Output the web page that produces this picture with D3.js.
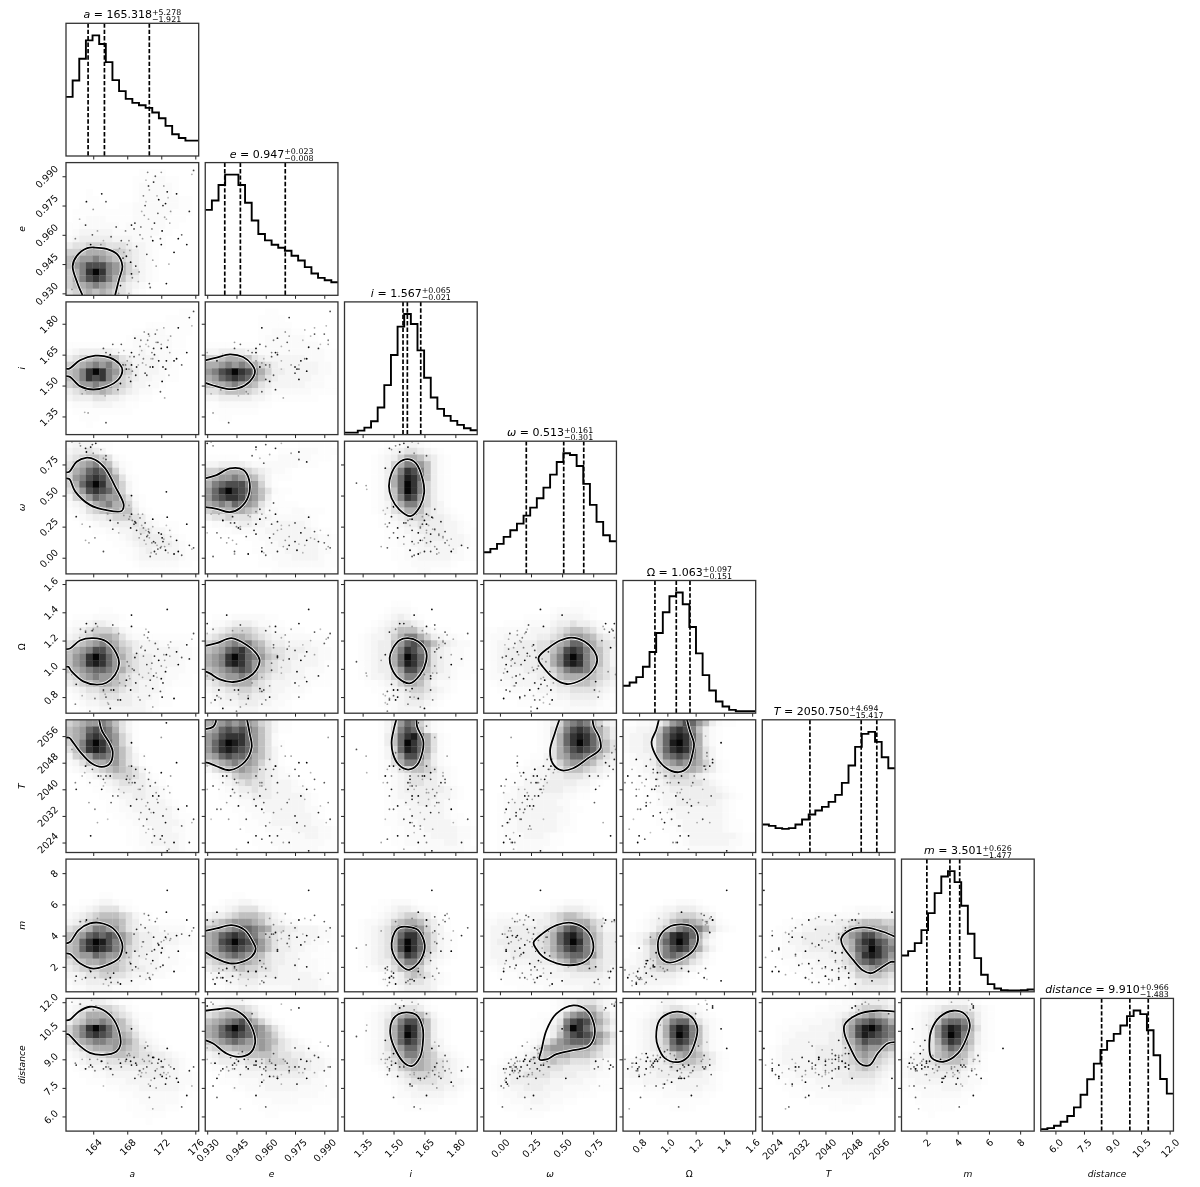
<!DOCTYPE html>
<html>
<head>
<meta charset="utf-8">
<script src="https://cdn.jsdelivr.net/npm/d3@7"></script>
<style>
body { margin: 0; background: #fff; }
svg { display: block; filter: blur(0.4px); }
text { font-family: "DejaVu Sans", sans-serif; fill: #000; }
</style>
</head>
<body>
<script>
// parameter names, axis limits and tick values
var labels = ["a", "e", "i", "ω", "Ω", "T", "m", "distance"];
var domains = [[160.8, 176.4], [0.929, 0.997], [1.262, 1.906], [-0.13, 0.937], [0.686, 1.625], [2021, 2060.9], [0.4, 8.9], [5.23, 12.2]];
var ticks = [[164, 168, 172, 176], [0.93, 0.945, 0.96, 0.975, 0.99], [1.35, 1.5, 1.65, 1.8], [0, 0.25, 0.5, 0.75], [0.8, 1, 1.2, 1.4, 1.6], [2024, 2032, 2040, 2048, 2056], [2, 4, 6, 8], [6, 7.5, 9, 10.5, 12]];
var tickFormats = ["d", ".3f", ".2f", ".2f", ".1f", "d", "d", ".1f"];

var medians = [165.318, 0.947, 1.567, 0.513, 1.063, 2050.75, 3.501, 9.91];
var plus = [5.278, 0.023, 0.065, 0.161, 0.097, 4.694, 0.626, 0.966];
var minus = [1.921, 0.008, 0.021, 0.301, 0.151, 15.417, 1.477, 1.483];

// 1d histograms, 20 bins each
var histA = [177, 226, 291, 346, 361, 335, 281, 227, 194, 171, 159, 152, 144, 130, 113, 90, 65, 54, 46, 46];
var histE = [255, 283, 329, 360, 360, 329, 276, 223, 183, 164, 151, 142, 133, 118, 104, 84, 65, 52, 45, 39];
var histI = [6, 6, 12, 21, 40, 81, 148, 238, 323, 361, 331, 252, 170, 111, 77, 56, 41, 29, 19, 13];
var histW = [65, 75, 90, 111, 131, 151, 175, 199, 227, 259, 298, 336, 362, 357, 324, 270, 207, 156, 116, 98];
var histO = [82, 92, 108, 139, 183, 240, 302, 350, 361, 326, 258, 179, 114, 68, 35, 20, 10, 6, 6, 6];
var histT = [84, 80, 73, 71, 73, 84, 99, 114, 126, 137, 152, 173, 209, 261, 317, 356, 362, 332, 286, 253];
var histM = [109, 122, 146, 185, 236, 296, 346, 362, 329, 258, 174, 101, 51, 23, 10, 5, 4, 4, 5, 7];
var histD = [6, 9, 16, 28, 45, 71, 109, 155, 202, 243, 270, 291, 316, 344, 361, 350, 302, 227, 156, 112];
var hists = [histA, histE, histI, histW, histO, histT, histM, histD];

// 2d density, rows top to bottom, one hex digit per bin (0 white .. f black)
var gridEA = ["", "00000000000111100000", "00000000001112211", "00000000001222221", "00010000001222221", "00011000001222222110", "00111100112222222110", "01111111112222221110", "01122211112222211100", "11222222122222211", "12333332222222110", "23444443332221100", "45566655543321100", "66788877654321", "7899a9876543210", "79accca98643210", "68adfda98653210", "68acdca87543210", "6789a9875432100", "567878765421"];
var gridIA = ["", "0000000000000000011", "0000000000000001111", "0000000000001111111", "0000000000112221111", "0000000001222222110", "1111111111222222110", "2344444322232222110", "4567888754333322100", "6789a9a8653333221", "78adfda9764333211", "78adcda8654332211", "6799a9976533221", "45677876543221", "3444554432211", "12223332211", "0111111111", "00111", "0001", ""];
var gridIE = ["", "00000000011", "000000001111", "0000000011111", "000000001122211", "00000000122222211", "1111111112222222211", "33444433222222222211", "66788875433333322211", "889a9a98654333333221", "9acdfdca864433333221", "89bcdcb9754333332211", "7889a987543333322211", "55677765432222221111", "33444443321111111", "1122222211", "01111111", "0011", "", ""];
var gridWA = ["2333211", "3445431", "456776521", "5789a87421", "689bcb9631", "69acdca8521", "68bdfda86310", "579cdcb9631", "3679ba9975210", "234689a8863100", "1235678877421", "012344566654211", "00112334445432111", "00001122334543321", "000000112344444321", "0000000112344444321", "00000000112343333211", "00000000012333333211", "0000000000122222211", "00000000000111111"];
var gridWE = ["0000000000000011111", "00000000000111222111", "1111100011122222111", "33444432222222111", "6678886543221", "7899a98753111", "8abccca9631", "9bdfdcb975211", "9bcddca97411", "89a9ba98531111", "677888764221122111", "45565554332222221", "12233443323333321", "0011222223333333211", "00000011223333333221", "00000001122333333221", "00000001122233333221", "00000000112223333211", "00000000111222222211", "0000000000111111111"];
var gridWI = ["0000001123321", "000001234554321", "0000123468875421", "000012368aa97421", "00001247adca7421", "00001248bedb7421", "00001248bfda6421", "00001247bfda6421", "00001247adc96421", "000012368aa86431", "00001235688754321", "000001234566544321", "0000011234454443321", "00000011233444433211", "00000011223344433321", "00000011223343333321", "00000001122333333211", "00000001122333332211", "00000000112222221", "0000000011122111"];
var gridOA = ["", "", "", "", "0000011", "011122221", "1223443211", "234566653211", "3456788753221111111", "56789a9865433322221", "789acca9764333333221", "79adfdb9865443333221", "79adedb9765443333211", "789abba9865443322211", "5689a99865444332211", "4567898765433322111", "2345566654433321", "1234455544333211", "0123344444332211", "00122333333321"];
var gridOE = ["", "", "", "", "", "01112222211", "122344432211", "234566654322111", "4567887654332222111", "6789a9a8754433332211", "789bcdb9865544433221", "89adfdba976544333221", "89adedb9865443333211", "789abcb9765443322211", "67899a98654433322111", "4567888654333222111", "3445566554332221", "233445544332211", "2233344433221", "1122233322211"];
var gridOI = ["", "", "", "0000000111", "00000012221", "000001234321", "0000123455431", "0001234577753211", "001233468aa8643221", "001234479bcb97543221", "00123448adca85432211", "00123448bfdb85432211", "00123448bedb85432211", "001234479cca75432111", "001233468aa86433211", "00011234688753221", "00001123456654321", "0000012334554321", "000001223444321", "00000012333321"];
var gridOW = ["", "", "", "0000000000000111", "000000000012222110", "00000011112333321", "0001112222344544321", "11222223334567765321", "12233333445689987543", "1233344455789bb98654", "123444445579cdca8753", "12344444558adfda8753", "12334444558adeda8753", "123333444568abba8654", "12233333445788887654", "01223333334567776543", "00112222333445555432", "00011122222334444321", "00000111112223333211", "00000000111122222110"];
var gridTA = ["67899a97531", "789bcba8531", "789cdca9641", "68adfdb9641", "57adedb9752", "3679bba97531", "235788997531", "1234567876531", "00123456665421", "000112345544321", "0000112344443321", "0000011233443321", "00000011233333321", "000000112233333321", "0000000112233333211", "00000000112233333211", "00000000011223332211", "00000000011223333211", "00000000011223333211", "00000000001122233211"];
var gridTE = ["899a9a9865311", "89bcbcb975311", "9acdddb9752", "9bdfedb97521", "9bdedcb97531", "89bcbba87531", "6789a9986431", "3567898754321", "12346776543221", "012345655433321", "0012344544333221", "00112334443333321", "00011223333333321", "000011222333333221", "000001122233333321", "0000011122333333221", "00000011122223333221", "00000001112222233221", "00000001112222222211", "00000000111222222111"];
var gridTI = ["000001359ba6421", "00000136acb7421", "00000147bdeb8521", "00000147bfdb8521", "00000136bedb8521", "000001369cca7421", "000001258aa86421", "00000123567765321", "00000112345554321", "00000012345544321", "000000123444444321", "000000123344443321", "00000012233443321", "00000011223333321", "000000112233333211", "0000001122233333211", "00000001122233333221", "00000001122223333221", "0000000112222223321", "00000000111222222211"];
var gridTW = ["0000000012469aba8643", "000000001257acdca864", "000000001258bdedb864", "000000001258bdfdb975", "000000001258acdcb975", "0000000113589bba9754", "00000012234689987543", "00000122334577765432", "00001123334455543321", "000112333444443321", "00012333344433221", "0012233333332211", "00123333333221", "001233333333211", "00123333333221", "001223333332210", "00122333333211", "001222333211", "001122222211", "00111222211"];
var gridTO = ["11223469acb974211", "223347acdca7421", "233448bdedb8421", "233448befdb8421", "233448bdedb8531", "123347abcba8531", "12234689a9986421", "1123356778875421", "011234566654321", "0011234555554321", "00012334444444321", "000112334444444321", "00011233444444321", "00001123333333321", "00000112333333321", "000001122333333211", "000000112333333211", "00000001123333333211", "00000001123333332211", "00000000112222222111"];
var gridMA = ["", "", "", "", "", "0000011", "0011233211", "11234555321", "2345677765321", "345678887542211111", "5678aa9975433322221", "789bcbcb975443333221", "78bdfeca975443333221", "78bdedca965443322111", "7899ba997644332221", "5678898765433322211", "456667776544332211", "3345566554333221", "2334444433221", "1223333222211"];
var gridME = ["", "", "", "", "", "000011", "0012233211", "12234555321", "3445677765321", "5678999875432211", "7889abba985544333221", "89bcdcba865443333221", "89cdfdcb975443332211", "89bcdcba975443322111", "789aba9875443322111", "5678898765443322211", "4555676655433322211", "23344555444333332211", "12233444333333333211", "01122333222223333221"];
var gridMI = ["", "", "", "", "", "", "00000112221", "00001123443211", "000012345665421", "0012234678875421", "00123457abb96431", "00123458bddb75321", "00123458cfdb75321", "00123458cfdb75321", "00123457adca64321", "001234468aa85321", "001123357886431", "0000012346765321", "0000012345554321", "000000123444431"];
var gridMW = ["", "", "", "", "", "", "000000000011222110", "000000011123444321", "11222223345677654211", "22333333445688886533", "23344444457 9bcb97533".replace(" ", ""), "23344444568bdeca8644", "23444444568bdfda8644", "23344444568acdca8644", "233344444579abba9644", "22333334445 78a986544".replace(" ", ""), "01222223333455666543", "00111222233334444432", "00011112222233333332", "00000111122222233321"];
var gridMO = ["", "", "", "", "", "", "000000112221", "00001233444321", "000123456665431", "0012345789875421", "00123578abba85321", "123468adedb8531", "123579bdfda7421", "112468acdca8531", "123468aba97531", "22345789875421", "2334566654321", "23344444321", "1233333321", "11222211"];
var gridMT = ["", "", "", "", "", "", "", "00000000000011222211", "00000011222222233333", "00011223333445677766", "00112233444457899887", "01123344444579acca98", "01123344444578bdecb9", "01122334444468bcfdba", "00122233334457adedb9", "00011222333456abcba8", "00001112223345789a87", "00000011222334667765", "00000001112223455554", "00000000111223444443"];
var gridDA = ["1233443211", "23456665421", "3568888654211", "46799a9875311", "68adfdb976421", "68acdcb9875321", "5789aa999864321", "3467888987654321", "234556777665544321", "1234445555555444321", "0122334444444443321", "00112233333444433221", "00011122233333333221", "00000011222333333211", "0000000011222222211", "000000000112222221", "00000000011122211", "000000000011111", "0000000000001", ""];
var gridDE = ["12233321", "3456665421", "5678887532", "789abca86421", "89bdfdba97531", "89bcdcba986421", "789aba9998754321", "56778888986543321", "3455567777655443321", "23444455566655443321", "12233344455555443321", "01122333344444433221", "00111222333333332211", "00001122233333222211", "00000011222222222111", "0000000111222211111", "0000000011111111", "00000000011", "", ""];
var gridDI = ["0000011223321", "00001234555421", "000123468997531", "00012357acca7421", "00012358beda7421", "00012358bfda7421", "00012358bdca7431", "000123579bb975321", "000123468aa9764321", "0001234578987654321", "0000123467887654321", "0000012345666554321", "00000012345555443321", "0000000123344443321", "000000012233333221", "00000000112222211", "00000000011111", "", "", ""];
var gridDW = ["00000000001234555432", "00000000001235677532", "00000000112479aa9753", "000000011235acdca864", "000000011246bfdb9753", "000000012247acdcb975", "000000123579abbba864", "00000123589999987643", "00011234678887776543", "00123345567665554321", "01234445555544443321", "01234455554444333221", "01234444443333322111", "01223344433322221111", "00122333332222111", "00112223322211", "000111222211", "000001111", "", ""];
var gridDO = ["0001123321", "0011234554321", "01123468875321", "0123457abb85321", "0123458ceda7421", "0123458cfda7421", "0123457bdca7421", "1123456aba86421", "1123345689875421", "2233445677765421", "2333444555554321", "233334444444321", "122333333333321", "011222223333221", "00011122222211", "0000011111111", "00000001111", "", "", ""];
var gridDT = ["00000000001122344443", "00000000112223566654", "00000111222345789876", "00011122233468abcba8", "00112223333479cefdba", "00122333334479cedcba", "00123333334468acbba9", "012333334444579a9987", "01233333444456898765", "01233333444456787654", "01223333344445676543", "01122333333445555432", "00112222333344444321", "00011122223333333221", "00001111222222222111", "00000001111122211", "00000000001111", "", "", ""];
var gridDM = ["000112233321", "00123455554321", "01234578886421", "012347abba7421", "012359cedb8521", "012359cfda7421", "012358bdca7421", "0123579ba86321", "1234578987531", "2334567776431", "2334455554321", "233344444321", "1233333333221", "112222333221", "01122222211", "0011111111", "00011111", "00001", "", ""];

// density contour, in bin units (x, y from top left), one list per line
var contourEA = [[[2.5, 20], [1.7, 18.1], [1, 15.6], [1.6, 14.1], [3.2, 12.9], [4.4, 12.8], [6.1, 13], [7.7, 13.8], [8.5, 15.6], [8, 17.6], [7.4, 20]]];
var contourIA = [[[0, 10.05], [0.5, 10.05], [2.1, 8.8], [4.4, 8.1], [6.6, 8.4], [8.1, 9.4], [8.5, 10.3], [7.9, 11.7], [6.1, 12.8], [4.1, 13.2], [2.1, 12.7], [0.6, 11.3], [0, 11.2]]];
var contourIE = [[[0, 8.8], [1.7, 8.4], [3.7, 7.9], [5.7, 8.3], [7, 9.4], [7.5, 10.5], [6.7, 12], [5, 13], [3.2, 13.1], [1.2, 12.6], [0, 12.2]]];
var contourWA = [[[0, 4.7], [0.5, 4.6], [1.6, 3.1], [3, 2.5], [4.4, 2.8], [5.9, 4.1], [7.4, 6.8], [8.7, 9.6], [8.4, 10.5], [6.1, 10.4], [3.6, 9.6], [1.4, 7.6], [0.5, 5.7], [0, 5.6]]];
var contourWE = [[[0, 5.6], [1.7, 5.1], [3.7, 4.1], [5.7, 4.3], [6.6, 5.8], [6.5, 8.3], [5.2, 10.1], [3.7, 10.7], [1.7, 10.2], [0, 9.95]]];
var contourWI = [[[9.5, 2.7], [10.75, 3.3], [11.8, 5.8], [12, 7.8], [11.4, 9.8], [9.95, 11.3], [8.3, 10.35], [7.1, 8.6], [6.7, 6.8], [7.1, 4.8], [8.1, 3.3]]];
var contourOA = [[[0, 10.35], [0.6, 10.25], [2.1, 9.05], [4.1, 8.7], [6.1, 9.2], [7.6, 11], [8, 12.5], [7.4, 14.2], [6.1, 15.4], [4.6, 15.7], [2.6, 15.2], [0.85, 13.7], [0.35, 13], [0, 13]]];
var contourOE = [[[0, 9.85], [1.7, 9.45], [3.96, 8.7], [6.2, 9.7], [7.7, 11], [8.2, 12], [7.7, 13.5], [6.5, 14.6], [4.2, 15.3], [2.2, 14.9], [0.7, 14], [0, 13.7]]];
var contourOI = [[[9.6, 8.7], [11.1, 9.2], [12.3, 10.7], [12.3, 12.2], [11.4, 14.2], [9.85, 15.5], [8.1, 14.7], [7.1, 13.2], [6.8, 11.7], [7.3, 10.2], [8.3, 9]]];
var contourOW = [[[8.3, 11.5], [9.7, 10.2], [11.5, 9.05], [13.2, 8.6], [15.2, 9.2], [16.7, 10.7], [17.1, 12], [16.5, 13.5], [14.7, 15], [12.5, 15.6], [10.5, 14.7], [8.9, 13], [8.3, 12.1]]];
var contourTA = [[[5, 0], [5.4, 1.6], [6.6, 3.6], [7.04, 4.8], [6.6, 6.6], [5.4, 7.1], [3.9, 6.6], [2.1, 4.8], [0.85, 3.1], [0.5, 2.7], [0, 2.7]]];
var contourTE = [[[6.3, 0], [6.7, 2.05], [7, 4.1], [6, 6.3], [3.7, 7.6], [1.7, 7], [0.45, 6.5], [0, 6.4]], [[0, 1.4], [1.2, 1.05], [1.6, 0.3], [1.6, 0]]];
var contourTI = [[[10.85, 0], [10.95, 1.05], [11.86, 3.1], [11.76, 4.8], [10.95, 6.8], [9.6, 7.5], [8.2, 6.8], [7.3, 5.1], [7.1, 3.3], [7.4, 1.55], [7.8, 0]]];
var contourTW = [[[11.4, 0], [10.7, 2.05], [10, 4.6], [10.4, 6.6], [11.65, 7.6], [13.5, 7.3], [15.7, 5.8], [17.6, 4.3], [17.4, 2.6], [16.6, 1.05], [16.4, 0]]];
var contourTO = [[[5.4, 0], [5, 1.55], [4.3, 3.3], [4.8, 5.1], [6.3, 7.1], [8.4, 7.9], [9.8, 7.1], [10.55, 4.8], [10.7, 3.6], [10.05, 1.55], [9.65, 0]]];
var contourMA = [[[0, 12.7], [0.6, 12.5], [1.9, 10.7], [3.6, 9.7], [5.1, 9.6], [7.1, 10.45], [8.4, 12.5], [8.5, 13.5], [7.9, 15], [6.1, 16], [4.1, 16.5], [2.1, 15.7], [0.6, 14.3], [0, 14.2]]];
var contourME = [[[0, 10.8], [1.7, 10.45], [3.96, 9.95], [5.96, 10.7], [7.2, 12.5], [7.6, 13.5], [7, 14.7], [5.2, 15.6], [3.7, 15.7], [1.7, 15], [0, 14]]];
var contourMI = [[[9.5, 10.2], [11.1, 10.7], [12.1, 12.96], [11.6, 15], [10.6, 16.2], [9.6, 16.7], [8.3, 15.8], [7.3, 14.2], [7.1, 12.7], [7.6, 10.95], [8.3, 10.3]]];
var contourMW = [[[7.5, 12.6], [8.9, 11.2], [11, 9.95], [13.2, 9.6], [15.5, 10.7], [16.5, 12.7], [16.2, 14.5], [15, 15.6], [13, 16], [11, 15.7], [8.9, 14.7], [7.9, 13.5]]];
var contourMO = [[[8.8, 9.85], [10.55, 10.3], [11.3, 11.7], [10.8, 13.5], [9.3, 14.8], [7, 15.6], [5.8, 15], [5.3, 13.7], [5.5, 11.7], [6.8, 10.3]]];
var contourMT = [[[20, 11.7], [18.2, 10.95], [15.4, 10.3], [13.2, 10.7], [11.9, 12], [12.2, 13.2], [13.7, 15.2], [15.2, 16.8], [16.4, 17.2], [18.2, 16.2], [19.4, 15.5], [20, 15.5]]];
var contourDA = [[[0, 3.3], [0.6, 3.2], [1.9, 2], [3.6, 1.26], [5.1, 1.5], [6.9, 2.8], [8, 5], [8.2, 7], [7.6, 8], [5.6, 8.5], [3.6, 8.2], [1.9, 7], [0.35, 5.4], [0, 5.4]]];
var contourDE = [[[0, 1.86], [1.7, 1.66], [3.7, 1.5], [5.7, 2.5], [7.2, 4.8], [7.5, 6.8], [6.7, 8.3], [5, 8.8], [3.2, 8.3], [1.2, 6.8], [0, 6.3]]];
var contourDI = [[[9.35, 2.1], [10.85, 2.5], [11.76, 4.3], [11.86, 6], [11.4, 8.8], [10.1, 10.2], [9.1, 9.8], [7.8, 8], [6.9, 5.3], [7.2, 3.3], [8.1, 2.4]]];
var contourDW = [[[13.5, 1.05], [15.5, 1.76], [16.6, 3.8], [16.6, 6], [15.7, 7.3], [13.5, 7.8], [10.95, 8.4], [9.45, 9.2], [8.4, 9.2], [8.7, 7.8], [9.45, 4.8], [10.95, 2.3]]];
var contourDO = [[[8.3, 2], [10.3, 2.76], [11.2, 4.5], [10.8, 6.8], [9.8, 8.8], [8.3, 9.6], [6.3, 9], [5.3, 7.3], [5, 5.8], [5.5, 3.3], [6.8, 2.3]]];
var contourDT = [[[20, 2], [17.2, 1.86], [14.4, 2.4], [12.4, 4], [12.4, 5.3], [13.2, 7.3], [14.7, 9.8], [16.2, 10.05], [17.4, 8.3], [18.9, 6.8], [20, 6.6]]];
var contourDM = [[[7.8, 1.86], [9.55, 2.36], [10.3, 4], [9.8, 6], [8.5, 8.3], [6.3, 9.55], [4.5, 8.9], [4.2, 6.8], [4.5, 4.8], [5.8, 2.76]]];

// row, column, density, contour for the lower triangle
var pairs = [
  [1, 0, gridEA, contourEA],
  [2, 0, gridIA, contourIA], [2, 1, gridIE, contourIE],
  [3, 0, gridWA, contourWA], [3, 1, gridWE, contourWE], [3, 2, gridWI, contourWI],
  [4, 0, gridOA, contourOA], [4, 1, gridOE, contourOE], [4, 2, gridOI, contourOI], [4, 3, gridOW, contourOW],
  [5, 0, gridTA, contourTA], [5, 1, gridTE, contourTE], [5, 2, gridTI, contourTI], [5, 3, gridTW, contourTW], [5, 4, gridTO, contourTO],
  [6, 0, gridMA, contourMA], [6, 1, gridME, contourME], [6, 2, gridMI, contourMI], [6, 3, gridMW, contourMW], [6, 4, gridMO, contourMO], [6, 5, gridMT, contourMT],
  [7, 0, gridDA, contourDA], [7, 1, gridDE, contourDE], [7, 2, gridDI, contourDI], [7, 3, gridDW, contourDW], [7, 4, gridDO, contourDO], [7, 5, gridDT, contourDT], [7, 6, gridDM, contourDM]
];

// outlying samples: a, e, i, omega, Omega, T, m, distance
var samples = [
  [172.7, .982, 1.686, .326, 1.42, 2021.5, 6.9, 9.57], [172, .992, 1.7, .09, 1.02, 2055.6, 3.6, 8.6], [175.8, .993, 1.86, .08, 1.25, 2031, 4.5, 8.6], [175.6, .991, 1.79, .07, 1.21, 2030, 4.3, 7.6],
  [175.3, .972, 1.83, .1, 1.07, 2024, 4, 8.4], [170.4, .992, 1.72, .18, 1.22, 2036, 1.6, 9.7], [170.2, .988, 1.7, .22, 1.28, 2035, 1.2, 9.9], [171.3, .99, 1.75, .12, 1.18, 2042, 4.9, 8.4],
  [172.3, .985, 1.78, .15, 1.1, 2040, 3.7, 8.3], [171.7, .978, 1.62, .2, 1.06, 2038, 3.4, 9], [172.5, .976, 1.58, .06, .98, 2030, 3.9, 7.7], [173.1, .972, 1.74, .17, 1.19, 2044, 3.8, 8.6],
  [170.1, .975, 1.56, .28, 1.13, 2046, 4.5, 9.6], [170.5, .968, 1.69, .23, .97, 2028, 4.2, 7.7], [171.2, .966, 1.65, .05, 1.09, 2026, 3.1, 8], [170.9, .963, 1.66, .12, 1.04, 2024, 3, 8.8],
  [172.6, .968, 1.58, .26, 1.01, 2034, 3.8, 8.2], [174.4, .96, 1.6, .02, 1.08, 2029, 4.1, 6.5], [169.8, .958, 1.61, .35, .94, 2041, 3.6, 9], [171, .957, 1.59, .31, .86, 2038, 2.4, 9.1],
  [172, .955, 1.68, .19, .93, 2045, 2.9, 8.9], [168, .955, 1.62, .37, 1.05, 2044, 3.9, 9.2], [167.5, .948, 1.6, .4, .98, 2050, 2.7, 9.4], [168.3, .952, 1.64, .33, .93, 2043, 2.3, 9.2],
  [169, .944, 1.55, .28, .9, 2046, 2, 8.8], [168.6, .938, 1.57, .3, 1, 2042, 1.8, 9.5], [169.3, .936, 1.6, .35, .8, 2040, 1.9, 8.2], [170.6, .935, 1.5, .2, .81, 2034, 1.3, 7],
  [171, .947, 1.63, .25, .73, 2028, 1.5, 6.4], [172.1, .962, 1.52, .16, .8, 2026, 3.2, 8.1], [168.5, .965, 1.66, .35, 1.3, 2047, 4.2, 8.7], [170, .97, 1.76, .14, 1.24, 2050, 5.4, 8.9],
  [170.5, .985, 1.75, .21, 1.26, 2043, 5.3, 9.2], [171.5, .98, 1.77, .1, .94, 2037, 5.1, 8.5], [172.2, .975, 1.59, .13, .9, 2032, 2.1, 8.6], [169.5, .96, 1.69, .32, .78, 2040, 1.4, 8.4],
  [170.8, .959, 1.63, .04, 1, 2033, 2.2, 7.9], [171.9, .958, 1.47, .08, .84, 2025, 2, 8.2], [172.9, .945, 1.55, .11, 1.15, 2022, 2.6, 8.7], [173.5, .951, 1.62, .03, .79, 2024, 1.7, 8.5],
  [175, .955, 1.66, .27, 1.17, 2035, 5, 7.1], [171.4, .944, 1.71, .03, .97, 2039, 1.9, 7.5], [170.3, .95, 1.55, .17, 1.03, 2031, 2.8, 8.6], [169.7, .972, 1.67, .26, 1.16, 2037, 3.3, 8.3],
  [168.9, .966, 1.73, .29, 1.08, 2042, 3, 8], [167.8, .962, 1.6, .38, .88, 2049, 3.9, 8.9], [168.2, .93, 1.54, .42, .95, 2047, 2.6, 9.6], [170.7, .933, 1.59, .01, .92, 2041, 1.2, 7.6],
  [172.4, .969, 1.44, .09, 1.06, 2024, 4.3, 9], [173.8, .981, 1.63, .14, 1.12, 2048, 4, 8],
  [163.2, .977, 1.53, .85, 1.32, 2048, 5, 11.7], [164, .973, 1.6, .84, 1.28, 2050, 4.8, 11.6], [165.5, .977, 1.58, .79, .8, 2044, 1.2, 8.6], [162.4, .968, 1.62, .92, 1.22, 2053, 4.9, 11.9],
  [163.1, .965, 1.48, .88, 1.26, 2047, 1.3, 8.5], [161.9, .958, 1.57, .95, .75, 2042, 1.1, 8.8], [165.2, .957, 1.58, .8, .84, 2041, .9, 7.6], [166.1, .959, 1.56, .76, .85, 2036, 1, 8.5],
  [164.5, .962, 1.59, .83, 1.3, 2030, 5.1, 9], [163.7, .955, 1.57, .89, 1.15, 2026, 1.7, 8.7], [165, .981, 1.57, .77, .91, 2040, 2, 8.9],
  [163.4, .933, 1.367, .58, .97, 2050, 3.4, 10.5], [165.5, .941, 1.32, .6, 1.05, 2052, 3.2, 10.2], [163, .929, 1.37, .55, .95, 2045, 2, 10.8], [164.6, .94, 1.46, .72, 1.1, 2044, 1.9, 10],
  [163.6, .945, 1.47, .25, .7, 2042, 1.8, 9], [165.4, .946, 1.45, .38, .82, 2042, 1.2, 9.3], [166.9, .942, 1.48, .28, .78, 2038, 1, 9.1], [165.8, .95, 1.47, .4, .75, 2046, .8, 8.6],
  [167.2, .934, 1.51, .42, .78, 2049, .9, 8.8], [166, .938, 1.65, .3, .72, 2044, 1.3, 8.5], [163.5, .94, 1.62, .12, .88, 2036, 1.9, 8.6], [165.2, .944, 1.68, .05, .85, 2043, 2.4, 8.5],
  [167, .93, 1.66, .2, 1.25, 2040, 5, 9], [164.3, .93, 1.55, .92, 1.32, 2049, 5, 11.8], [162.5, .933, 1.51, .9, 1.28, 2051, 4.9, 11.9], [163.8, .948, 1.54, .96, 1.27, 2056, 4.7, 12.1],
  [165.5, .953, 1.66, .82, 1.2, 2059, 4.6, 11.4], [161.5, .932, 1.59, .93, .96, 2052, 3.6, 12], [168.5, .94, 1.6, .5, 1.38, 2054, 1.1, 10.6], [172.6, .935, 1.62, .53, 1.1, 2060, 5.5, 8],
  [168.2, .957, 1.58, .31, 1.02, 2042, 3.7, 9.3], [168.8, .963, 1.64, .27, .99, 2044, 4.1, 9.1], [167.6, .951, 1.67, .34, 1.07, 2039, 3.2, 9.5], [169.1, .954, 1.59, .22, 1.11, 2037, 4.4, 8.7],
  [169.6, .964, 1.72, .19, 1.15, 2033, 4.7, 8.1], [170.2, .977, 1.6, .11, .88, 2027, 2.5, 8.3], [171.6, .971, 1.71, .07, 1.14, 2036, 3.5, 8.8], [173, .966, 1.66, .22, 1.09, 2039, 3.7, 8.1],
  [174, .958, 1.78, .05, 1.03, 2034, 3, 7.8], [168.4, .946, 1.52, .24, .85, 2035, 2.2, 8.9], [169.4, .941, 1.65, .16, .96, 2031, 2.7, 8.4], [167.3, .957, 1.7, .39, 1.12, 2046, 4.3, 8.6],
  [170.6, .983, 1.74, .16, 1.2, 2045, 5, 8.9], [171.1, .987, 1.68, .13, .95, 2033, 3.9, 9.1], [169.9, .98, 1.63, .24, 1.09, 2029, 3.6, 8.5], [172.8, .979, 1.72, .04, 1.17, 2041, 4.1, 8.3],
  [166.7, .964, 1.55, .44, 1.17, 2046, 4.1, 9.3], [167.1, .953, 1.6, .43, .9, 2045, 2.4, 9.2], [166.4, .936, 1.5, .41, .85, 2047, 1.6, 9.3], [167.9, .949, 1.58, .36, .92, 2043, 2.9, 9],
  [164.9, .955, 1.49, .87, .98, 2044, 1.7, 8.9], [163.9, .96, 1.53, .91, 1.27, 2046, 1.9, 8.6], [162.7, .951, 1.46, .27, .81, 2044, 1.2, 9], [162, .943, 1.49, .33, .89, 2040, 1.4, 8.7],
  [164.2, .937, 1.48, .16, .79, 2034, 1.3, 8.4], [165.7, .932, 1.46, .35, .76, 2031, 1.6, 8.8], [166.3, .947, 1.7, .23, 1.31, 2038, 5.2, 8.2], [163.1, .943, 1.64, .14, 1.27, 2047, 4.9, 8.5]
];

// styles
var grayLevels = ["#ffffff", "#fdfdfd", "#fafafa", "#f5f5f5", "#eeeeee", "#e2e2e2", "#d2d2d2", "#c0c0c0", "#aeaeae", "#9a9a9a", "#808080", "#686868", "#4e4e4e", "#343434", "#1c1c1c", "#060606"];
var dotShade = [.95, .4, .7, .3, .85, .5, .25, .65, .35, 1];

var size = 132.7, stepX = 139.25, stepY = 139.3, left = 66, top_ = 23.3, nBins = 20;
var tickFont = 9.6, labelFont = 9.1, titleFont = 11, scriptFont = 7.9;

var svg = d3.select("body").append("svg")
    .attr("width", 1200)
    .attr("height", 1187);

svg.append("clipPath").attr("id", "panel-clip")
  .append("rect").attr("width", size).attr("height", size);

var xScales = domains.map(function(d) { return d3.scaleLinear().domain(d).range([0, size]); });
var yScales = domains.map(function(d) { return d3.scaleLinear().domain(d).range([size, 0]); });
var binX = d3.scaleLinear().domain([0, nBins]).range([0, size]);
var binY = d3.scaleLinear().domain([0, nBins]).range([0, size]);
var band = d3.scaleBand().domain(d3.range(nBins)).range([0, size]);
var gray = d3.scaleOrdinal().domain(d3.range(16)).range(grayLevels);

function panel(row, col) {
  return svg.append("g").attr("transform", "translate(" + (left + col * stepX) + "," + (top_ + row * stepY) + ")");
}

/* matplotlib style rotated tick label, bbox centre sits beyond the tick */
function rotateLabels(sel, vertical) {
  sel.selectAll("text").each(function() {
    var t = d3.select(this);
    var half = (this.getComputedTextLength() + tickFont * 0.75) * 0.707 / 2;
    var off = 7 + half;
    t.attr("x", 0).attr("y", 0).attr("dy", "0.35em")
      .style("text-anchor", "middle")
      .attr("transform", (vertical ? "translate(" + (-off) + ",0)" : "translate(0," + off + ")") + " rotate(-45)");
  });
}

function drawAxes(g, row, col, diagonal) {
  var xAxis = d3.axisBottom(xScales[col]).tickValues(ticks[col]).tickSize(3.5)
      .tickFormat(row === 7 ? d3.format(tickFormats[col]) : "");
  var ax = g.append("g").attr("transform", "translate(0," + size + ")")
      .style("font-size", tickFont + "px").style("font-family", null).call(xAxis);
  ax.select(".domain").remove();
  ax.selectAll("line").attr("stroke", "#222").attr("stroke-width", 1);
  if (row === 7) rotateLabels(ax, false);
  else ax.selectAll("text").remove();

  if (!diagonal) {
    var yAxis = d3.axisLeft(yScales[row]).tickValues(ticks[row]).tickSize(3.5)
        .tickFormat(col === 0 ? d3.format(tickFormats[row]) : "");
    var ay = g.append("g").style("font-size", tickFont + "px").style("font-family", null).call(yAxis);
    ay.select(".domain").remove();
    ay.selectAll("line").attr("stroke", "#222").attr("stroke-width", 1);
    if (col === 0) rotateLabels(ay, true);
    else ay.selectAll("text").remove();
  }

  g.append("rect")
      .attr("width", size)
      .attr("height", size)
      .attr("fill", "none")
      .attr("stroke", "#333")
      .attr("stroke-width", 1.3);
}

function italicLabel(sel, name) {
  return sel.style("font-style", name === "Ω" ? "normal" : "italic").text(name);
}

/* diagonal panels */
labels.forEach(function(name, k) {
  var g = panel(k, k);
  var y = d3.scaleLinear().domain([0, 1.1 * d3.max(hists[k])]).range([size, 0]);
  var line = d3.line().curve(d3.curveStepAfter)
      .x(function(d) { return binX(d[0]); })
      .y(function(d) { return y(d[1]); });
  var steps = hists[k].map(function(v, b) { return [b, v]; });
  steps.push([nBins, hists[k][nBins - 1]]);

  var inner = g.append("g").attr("clip-path", "url(#panel-clip)");
  inner.append("path").datum(steps)
      .attr("d", line)
      .attr("fill", "none")
      .attr("stroke", "#000")
      .attr("stroke-width", 1.9);

  [medians[k] - minus[k], medians[k], medians[k] + plus[k]].forEach(function(q) {
    inner.append("line")
        .attr("x1", xScales[k](q)).attr("x2", xScales[k](q))
        .attr("y1", 0).attr("y2", size)
        .attr("stroke", "#000")
        .attr("stroke-width", 1.7)
        .attr("stroke-dasharray", "4.4,2");
  });

  drawAxes(g, k, k, true);

  /* title: variable = value with stacked errors */
  var fmt = d3.format(".3f");
  var title = g.append("g");
  var main = title.append("text").attr("y", -5).style("font-size", titleFont + "px");
  italicLabel(main.append("tspan"), name);
  main.append("tspan").style("font-style", "normal").text(" = " + fmt(medians[k]));
  var w = main.node().getComputedTextLength();
  var sup = title.append("text").attr("x", w).attr("y", -8.6).style("font-size", scriptFont + "px").text("+" + fmt(plus[k]));
  var sub = title.append("text").attr("x", w).attr("y", -1.6).style("font-size", scriptFont + "px").text("\u2212" + fmt(minus[k]));
  var total = w + Math.max(sup.node().getComputedTextLength(), sub.node().getComputedTextLength());
  title.attr("transform", "translate(" + ((size - total) / 2) + ",0)");
});

/* lower triangle */
pairs.forEach(function(p) {
  var row = p[0], col = p[1], grid = p[2], contour = p[3];
  var g = panel(row, col);
  var inner = g.append("g").attr("clip-path", "url(#panel-clip)");

  var cells = [];
  grid.forEach(function(text, r) {
    text.split("").forEach(function(ch, c) {
      var level = parseInt(ch, 16);
      if (level > 0 && c < nBins) cells.push({r: r, c: c, level: level});
    });
  });
  inner.selectAll("rect.cell").data(cells).enter().append("rect")
      .attr("class", "cell")
      .attr("x", function(d) { return band(d.c); })
      .attr("y", function(d) { return band(d.r); })
      .attr("width", band.bandwidth() + 0.3)
      .attr("height", band.bandwidth() + 0.3)
      .attr("fill", function(d) { return gray(d.level); });

  /* samples only show outside the densest bins */
  var dots = samples.filter(function(s) {
    var cx = Math.floor(binX.invert(xScales[col](s[col])));
    var cy = Math.floor(binY.invert(yScales[row](s[row])));
    var level = parseInt((grid[cy] || "").charAt(cx), 16) || 0;
    return level < 7;
  });
  inner.selectAll("circle").data(dots).enter().append("circle")
      .attr("cx", function(s) { return xScales[col](s[col]); })
      .attr("cy", function(s) { return yScales[row](s[row]); })
      .attr("r", 0.9)
      .attr("fill", "#000")
      .attr("opacity", function(s) { return dotShade[samples.indexOf(s) % dotShade.length]; });

  contour.forEach(function(pts) {
    var first = pts[0];
    var open = first[0] === 0 || first[1] === 0 || first[0] === nBins || first[1] === nBins;
    var path = d3.line()
        .curve(open ? d3.curveCatmullRom.alpha(0.5) : d3.curveCatmullRomClosed.alpha(0.5))
        .x(function(d) { return binX(d[0]); })
        .y(function(d) { return binY(d[1]); });
    inner.append("path").datum(pts).attr("d", path)
        .attr("fill", "none").attr("stroke", "#fff").attr("stroke-width", 3.2);
    inner.append("path").datum(pts).attr("d", path)
        .attr("fill", "none").attr("stroke", "#000").attr("stroke-width", 1.8);
  });

  drawAxes(g, row, col, false);
});

/* axis labels */
labels.forEach(function(name, k) {
  italicLabel(svg.append("text")
      .attr("x", left + k * stepX + size / 2)
      .attr("y", 1177)
      .style("text-anchor", "middle")
      .style("font-size", labelFont + "px"), name);
  if (k > 0) {
    italicLabel(svg.append("text")
        .attr("transform", "translate(24.5," + (top_ + k * stepY + size / 2) + ") rotate(-90)")
        .style("text-anchor", "middle")
        .style("font-size", labelFont + "px"), name);
  }
});
</script>
</body>
</html>
